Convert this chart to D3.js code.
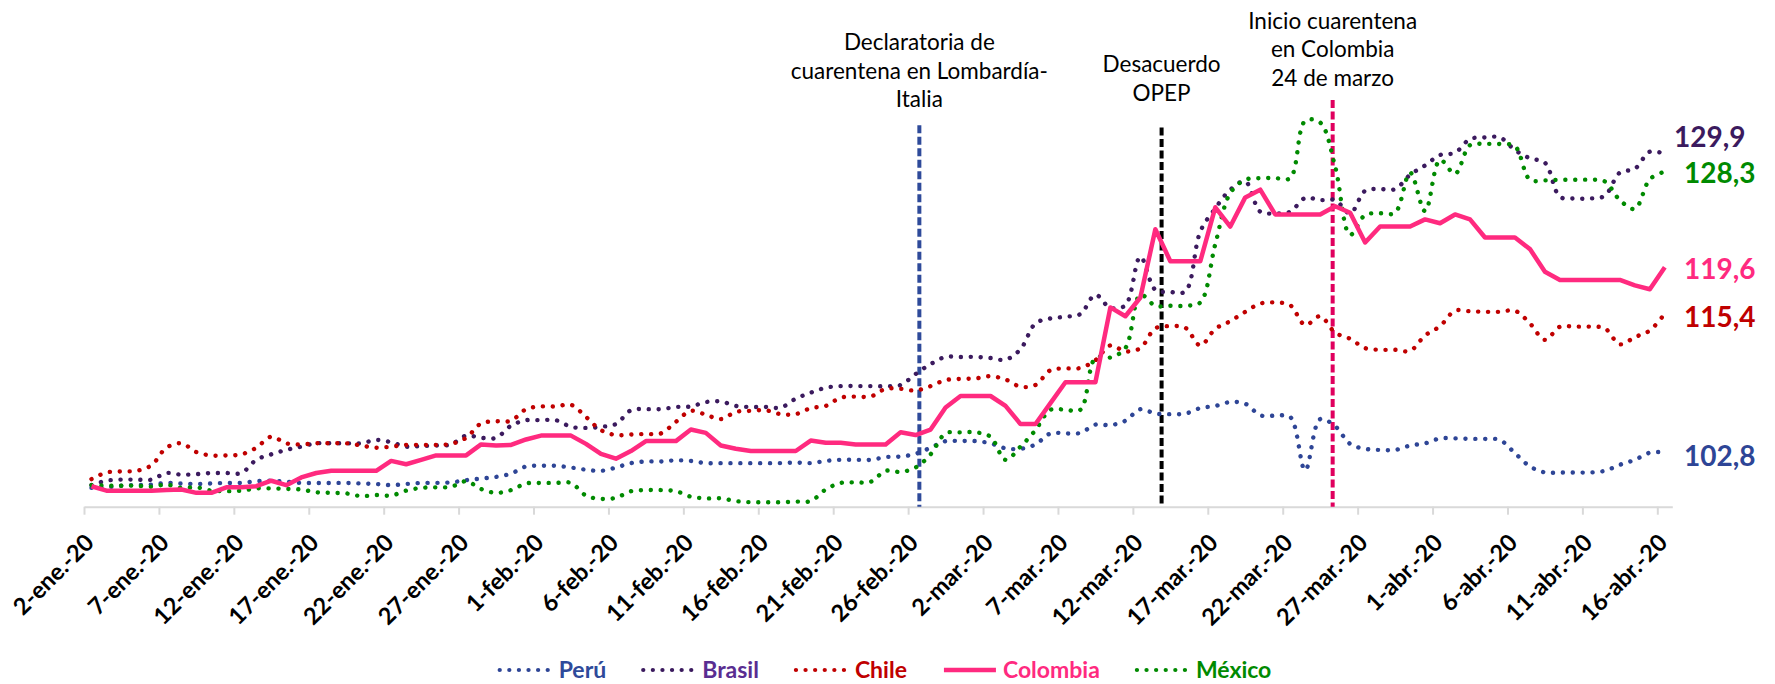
<!DOCTYPE html>
<html>
<head>
<meta charset="utf-8">
<script src="https://cdn.jsdelivr.net/npm/d3@7"></script>
<style>
  body { margin: 0; background: #fff; }
  svg text { font-family: Lato, "Open Sans", sans-serif; }
</style>
</head>
<body>
<div id="vis-container"></div>
<script>
// índices base 100, un valor por día calendario, 2-ene-20 a 16-abr-20
const peru = [99.55,99.6,99.75,99.8,99.85,100.0,99.95,99.9,99.95,100.0,
  100.0,100.15,100.2,100.1,100.0,100.0,100.0,100.0,99.95,99.9,
  99.8,99.9,100.0,100.0,100.05,100.25,100.4,100.55,100.85,101.5,
  101.55,101.55,101.4,101.2,101.1,101.4,101.8,101.95,101.95,102.05,
  102.0,101.8,101.8,101.8,101.8,101.8,101.8,101.85,101.8,102.0,
  102.1,102.1,102.1,102.35,102.4,102.65,103.2,103.8,103.8,103.8,
  103.6,103.15,103.1,103.5,104.5,104.5,104.55,105.3,105.25,105.65,
  106.7,106.3,106.25,106.3,106.8,107.0,107.35,107.2,106.15,106.1,
  106.0,101.15,105.8,105.15,103.55,103.1,103.0,103.0,103.4,103.6,
  104.05,104.05,104.0,104.0,103.9,102.7,101.5,100.95,100.95,100.95,
  100.95,101.1,101.65,102.1,102.75,102.8];
const brasil = [99.8,100.2,100.3,100.3,100.3,100.9,100.75,100.8,100.9,100.9,
  100.9,102.1,102.6,103.0,103.3,103.6,103.6,103.6,103.6,103.9,
  103.7,103.3,103.35,103.4,103.5,104.3,104.1,104.1,105.2,105.7,
  105.7,105.7,105.1,105.0,105.1,105.35,106.6,106.7,106.7,106.9,
  106.95,107.35,107.4,107.0,106.9,106.9,106.85,107.65,108.2,108.65,
  108.8,108.8,108.8,108.8,108.9,109.9,110.8,111.45,111.45,111.45,
  111.35,111.2,112.15,114.5,114.95,115.1,115.35,117.1,115.9,116.15,
  120.55,117.55,117.35,117.4,122.85,124.95,126.65,127.4,124.65,124.5,
  124.65,125.9,125.7,125.7,124.5,126.55,126.7,126.7,128.0,128.85,
  129.8,130.0,131.25,131.4,131.4,130.25,129.5,129.1,126.0,125.85,
  125.85,126.1,128.2,128.55,130.1,129.9];
const chile = [100.35,100.95,101.05,101.1,101.6,103.2,103.6,102.8,102.5,102.5,
  102.6,103.2,104.2,103.6,103.5,103.6,103.6,103.6,103.4,103.2,
  103.3,103.45,103.45,103.45,103.55,104.1,105.4,105.6,105.65,106.7,
  106.95,106.95,107.1,106.0,104.8,104.35,104.4,104.45,104.5,105.55,
  106.55,106.2,105.8,106.45,106.55,106.6,106.25,106.25,106.8,107.0,
  107.75,107.85,107.85,108.55,108.55,108.4,108.8,109.35,109.45,109.5,
  109.7,109.4,108.75,108.9,110.25,110.4,110.45,111.15,112.5,111.95,
  112.25,114.05,114.25,114.1,112.5,114.0,114.7,115.55,116.3,116.4,
  116.15,114.35,115.15,113.65,113.1,112.25,112.1,112.1,112.0,113.4,
  114.25,115.65,115.6,115.55,115.55,115.65,114.5,113.0,114.2,114.2,
  114.2,114.05,112.6,113.25,113.85,115.4];
const colombia = [99.7,99.3,99.3,99.3,99.3,99.35,99.4,99.1,99.1,99.6,
  99.6,99.7,100.2,99.8,100.5,100.9,101.1,101.1,101.1,101.1,
  102.0,101.7,102.1,102.5,102.5,102.5,103.5,103.4,103.45,103.95,
  104.3,104.3,104.3,103.55,102.65,102.2,102.9,103.8,103.8,103.8,
  104.85,104.55,103.4,103.1,102.9,102.9,102.9,102.9,103.85,103.65,
  103.65,103.5,103.5,103.5,104.6,104.35,104.85,106.85,107.9,107.9,
  107.9,107.0,105.35,105.35,107.25,109.15,109.15,109.15,115.95,115.15,
  116.85,123.05,120.15,120.15,120.15,125.05,123.3,125.95,126.65,124.4,
  124.4,124.4,124.4,125.15,124.55,121.85,123.3,123.3,123.3,123.95,
  123.6,124.4,123.95,122.3,122.3,122.3,121.25,119.2,118.45,118.45,
  118.45,118.45,118.45,117.95,117.6,119.6];
const mexico = [99.8,99.75,99.75,99.75,99.65,99.85,99.55,99.6,99.3,99.25,
  99.3,99.5,99.5,99.45,99.4,99.15,99.1,99.05,98.8,98.9,
  98.85,99.3,99.55,99.6,99.65,100.15,99.45,99.1,99.35,99.95,
  100.0,100.0,100.0,98.85,98.55,98.65,99.25,99.35,99.35,99.25,
  98.75,98.6,98.6,98.35,98.25,98.25,98.25,98.3,98.35,99.4,
  100.0,100.05,100.1,101.1,101.0,101.4,102.6,104.5,104.6,104.6,
  104.2,102.1,103.3,104.8,106.65,106.65,106.65,111.35,111.4,112.25,
  117.1,116.1,116.1,116.1,116.4,121.7,126.35,127.55,127.7,127.7,
  127.7,132.9,132.75,128.75,122.55,124.35,124.5,124.55,128.2,124.7,
  129.35,128.1,130.7,130.8,130.8,130.6,127.55,127.5,127.55,127.55,
  127.55,127.4,125.7,124.9,127.6,128.3];

const nombres = ['Perú', 'Brasil', 'Chile', 'Colombia', 'México'];
const colores = ['#2E4596', '#3B1A5E', '#C00000', '#FF2A7F', '#008A00'];
const coloresLeyenda = ['#2E4A9A', '#5A2D91', '#C00000', '#FF2A7F', '#008A00'];
const etiquetasFinales = ['102,8', '129,9', '115,4', '119,6', '128,3'];
const valores = [peru, brasil, chile, colombia, mexico];

const meses = ['ene.', 'feb.', 'mar.', 'abr.'];

// líneas verticales de eventos
const eventoFechas = ['2020-02-26T18:00', '2020-03-13T22:00', '2020-03-25T08:00'];
const eventoTope = [132.5, 132.3, 134.8];
const eventoColores = ['#2E4A9A', '#000000', '#E0005E'];
const eventoTextos = [
  ['Declaratoria de', 'cuarentena en Lombardía-', 'Italia'],
  ['Desacuerdo', 'OPEP'],
  ['Inicio cuarentena', 'en Colombia', '24 de marzo']
];

const width = 1775;
const height = 684;

const fechas = d3.utcDay.range(Date.UTC(2020, 0, 2), Date.UTC(2020, 3, 17));

const xScale = d3.scaleUtc()
  .domain([Date.UTC(2020, 0, 2), Date.UTC(2020, 3, 17)])
  .range([84, 1672.3]);
const yScale = d3.scaleLinear()
  .domain([97.84, 134.8])
  .range([506.7, 100]);

const svg = d3.select('#vis-container').append('svg')
  .attr('width', width)
  .attr('height', height);

svg.append('rect').attr('width', width).attr('height', height).attr('fill', '#fff');

// eje x
const tickFechas = fechas.filter((d, i) => i % 5 === 0);
const xAxis = d3.axisBottom(xScale)
  .tickValues(tickFechas)
  .tickSizeInner(8)
  .tickSizeOuter(0)
  .tickFormat(d => d.getUTCDate() + '-' + meses[d.getUTCMonth()] + '-20');

const xAxisG = svg.append('g')
  .attr('transform', 'translate(0 506.7)')
  .call(xAxis);
xAxisG.select('.domain').attr('stroke', '#D9D9D9').attr('stroke-width', 2);
xAxisG.selectAll('.tick line').attr('stroke', '#D9D9D9').attr('stroke-width', 2);
xAxisG.selectAll('.tick text')
  .attr('fill', '#000')
  .attr('font-size', 23.5)
  .attr('font-weight', 'bold')
  .attr('text-anchor', 'end')
  .attr('dy', null)
  .attr('y', null)
  .attr('transform', 'translate(11 37.5) rotate(-45)');

// líneas de eventos
eventoFechas.forEach(function (f, i) {
  const fx = xScale(d3.utcParse('%Y-%m-%dT%H:%M')(f));
  svg.append('line')
    .attr('x1', fx).attr('x2', fx)
    .attr('y1', yScale(eventoTope[i])).attr('y2', yScale(97.84))
    .attr('stroke', eventoColores[i])
    .attr('stroke-width', 4)
    .attr('stroke-dasharray', '8 3.5');
  const lineas = eventoTextos[i];
  const base = [99.6, 92.8, 78][i];
  lineas.forEach(function (t, j) {
    svg.append('text')
      .attr('x', fx)
      .attr('y', base - (lineas.length - 1 - j) * 28.5)
      .attr('dy', '0.35em')
      .attr('text-anchor', 'middle')
      .attr('font-size', 22.5)
      .attr('fill', '#000')
      .text(t);
  });
});

const line = d3.line()
  .x((d, i) => xScale(d3.utcHour.offset(fechas[i], 12)))
  .y(d => yScale(d));

// orden de dibujo: punteadas primero, Colombia encima
[1, 2, 0, 4, 3].forEach(function (k) {
  const punteada = k !== 3;
  svg.append('path')
    .datum(valores[k])
    .attr('fill', 'none')
    .attr('stroke', colores[k])
    .attr('stroke-width', punteada ? 4.4 : 4.5)
    .attr('stroke-linecap', punteada ? 'round' : 'butt')
    .attr('stroke-linejoin', 'round')
    .attr('stroke-dasharray', punteada ? '0.1 9.8' : null)
    .attr('d', line.curve(punteada ? d3.curveCatmullRom : d3.curveLinear));
});

// etiquetas finales
const desplaz = [4, -17, 3.5, 2, 2];
const xEtiqueta = [1684, 1674, 1684, 1684, 1684];
valores.forEach(function (v, k) {
  svg.append('text')
    .attr('x', xEtiqueta[k])
    .attr('y', yScale(v[v.length - 1]) + desplaz[k])
    .attr('dy', '0.35em')
    .attr('font-size', 28)
    .attr('font-weight', 'bold')
    .attr('fill', colores[k])
    .text(etiquetasFinales[k]);
});

// leyenda
const leyenda = svg.append('g');
let cursor = 0;
nombres.forEach(function (n, k) {
  const punteada = k !== 3;
  leyenda.append('line')
    .attr('x1', cursor + 3).attr('x2', cursor + 55)
    .attr('y1', 670).attr('y2', 670)
    .attr('stroke', colores[k])
    .attr('stroke-width', punteada ? 4.2 : 4.5)
    .attr('stroke-linecap', punteada ? 'round' : 'butt')
    .attr('stroke-dasharray', punteada ? '0.1 9.5' : null);
  const t = leyenda.append('text')
    .attr('x', cursor + 62)
    .attr('y', 670)
    .attr('dy', '0.35em')
    .attr('font-size', 23)
    .attr('font-weight', 'bold')
    .attr('fill', coloresLeyenda[k])
    .text(n);
  cursor += 62 + t.node().getComputedTextLength() + 34;
});
cursor -= 34;
leyenda.attr('transform', 'translate(' + (884 - cursor / 2) + ' 0)');
</script>
</body>
</html>
